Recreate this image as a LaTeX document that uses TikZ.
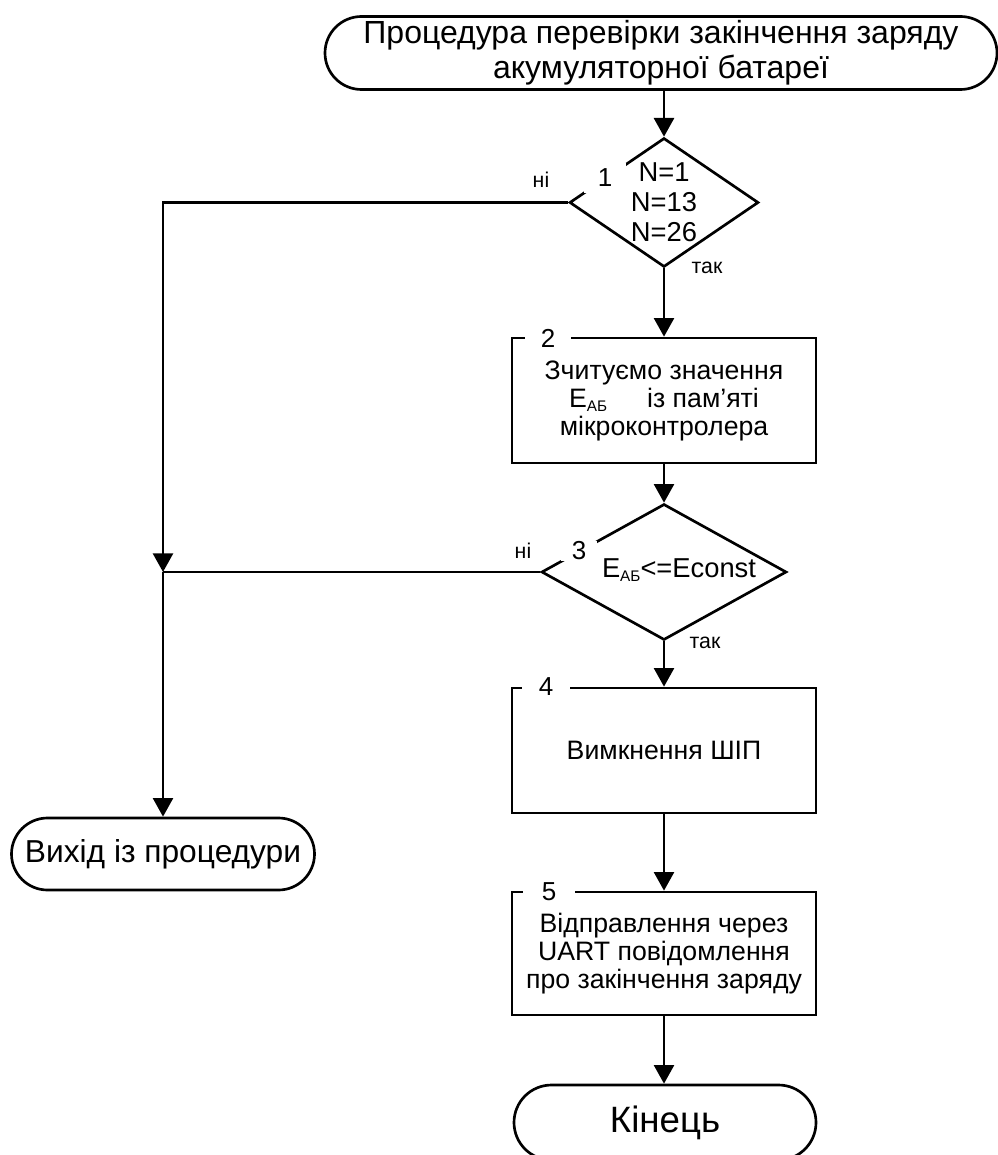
\documentclass[tikz,border=0pt]{standalone}
\usepackage{fontspec}
\setmainfont{Liberation Sans}
\usetikzlibrary{arrows.meta,shapes.geometric,shapes.misc}

\newcommand{\Eab}{E\raisebox{-3.5pt}{\fontsize{11.5pt}{11.5pt}\selectfont АБ}}

\tikzset{every picture/.style={line width=2pt}}
\tikzset{
  term/.style={draw, rounded rectangle, inner sep=0pt, align=center},
  blok/.style={draw, rectangle, minimum width=228pt, inner sep=0pt, align=center, font=\fontsize{20pt}{21pt}\selectfont},
  romb/.style={draw, diamond, inner sep=0pt},
  nomer/.style={fill=white, inner sep=0pt, font=\fontsize{19.5pt}{21pt}\selectfont},
  pidpys/.style={inner sep=0.75pt, font=\fontsize{16pt}{18pt}\selectfont},
  strilka/.style={-{Triangle[width=15pt,length=14pt]}}
}

\begin{document}
\begin{tikzpicture}[x=0.75pt,y=0.75pt,yscale=-1,xscale=1]
\useasboundingbox (0,0) rectangle (997,1155);

% Terminals
\node [term, minimum width=504pt, minimum height=54.75pt, font=\fontsize{24pt}{26pt}\selectfont] (start) at (661,53) {Процедура перевірки закінчення заряду\\акумуляторної батареї};
\node [term, minimum width=227.25pt, minimum height=54pt, font=\fontsize{23.8pt}{26pt}\selectfont] (vyhid) at (163,854) {Вихід із процедури};
\node [term, minimum width=226.5pt, minimum height=56.25pt, font=\fontsize{27.5pt}{30pt}\selectfont] (kinec) at (665,1122.5) {Кінець};

% Decisions
\node [romb, minimum width=141.75pt, minimum height=96.75pt] (d1) at (664,202.5) {};
\node [romb, minimum width=183.75pt, minimum height=102pt] (d3) at (664,572) {};
\node [align=center, inner sep=0pt, font=\fontsize{20.5pt}{22.5pt}\selectfont] (t1) at (664,202) {N=1\\N=13\\N=26};
\node [inner sep=0pt, font=\fontsize{20.5pt}{21pt}\selectfont] (t3) at (679,570) {\Eab<=Econst};

% Process blocks
\node [blok, minimum height=93.75pt] (b2) at (664,400.5) {Зчитуємо значення\\\Eab\hspace{30pt}із пам’яті\\мікроконтролера};
\node [blok, minimum height=93.75pt] (b4) at (664,750.5) {Вимкнення ШІП};
\node [blok, minimum height=92.25pt] (b5) at (664,953.5) {Відправлення через\\UART повідомлення\\про закінчення заряду};

% Numbers
\node [nomer, minimum width=32pt, minimum height=23pt] (n1) at (605,178) {1};
\node [nomer, minimum width=35pt, minimum height=15pt] (n2) at (548,338) {2};
\node [nomer, minimum width=27pt, minimum height=15pt] (n3) at (579,551) {3};
\node [nomer, minimum width=36pt, minimum height=15pt] (n4) at (546,687) {4};
\node [nomer, minimum width=39pt, minimum height=15pt] (n5) at (549,892) {5};

% Labels
\node [pidpys] (ni1) at (541,180) {ні};
\node [pidpys] (tak1) at (707,268) {так};
\node [pidpys] (ni3) at (523,551) {ні};
\node [pidpys] (tak3) at (705,643) {так};

% Connectors
\draw [strilka] (start.south -| d1.north) -- (d1.north);
\draw [strilka] (d1.south) -- (b2.north);
\draw [strilka] (b2.south) -- (d3.north);
\draw [strilka] (d3.south) -- (b4.north);
\draw [strilka] (b4.south) -- (b5.north);
\draw [strilka] (b5.south) -- (b5.south |- kinec.north);
\coordinate (vuzol) at (vyhid.north |- d3.west);
\draw [strilka] (d1.west) -| (vuzol);
\draw (d3.west) -- (vuzol);
\draw [strilka] (vuzol) -- (vyhid.north);

\end{tikzpicture}
\end{document}
